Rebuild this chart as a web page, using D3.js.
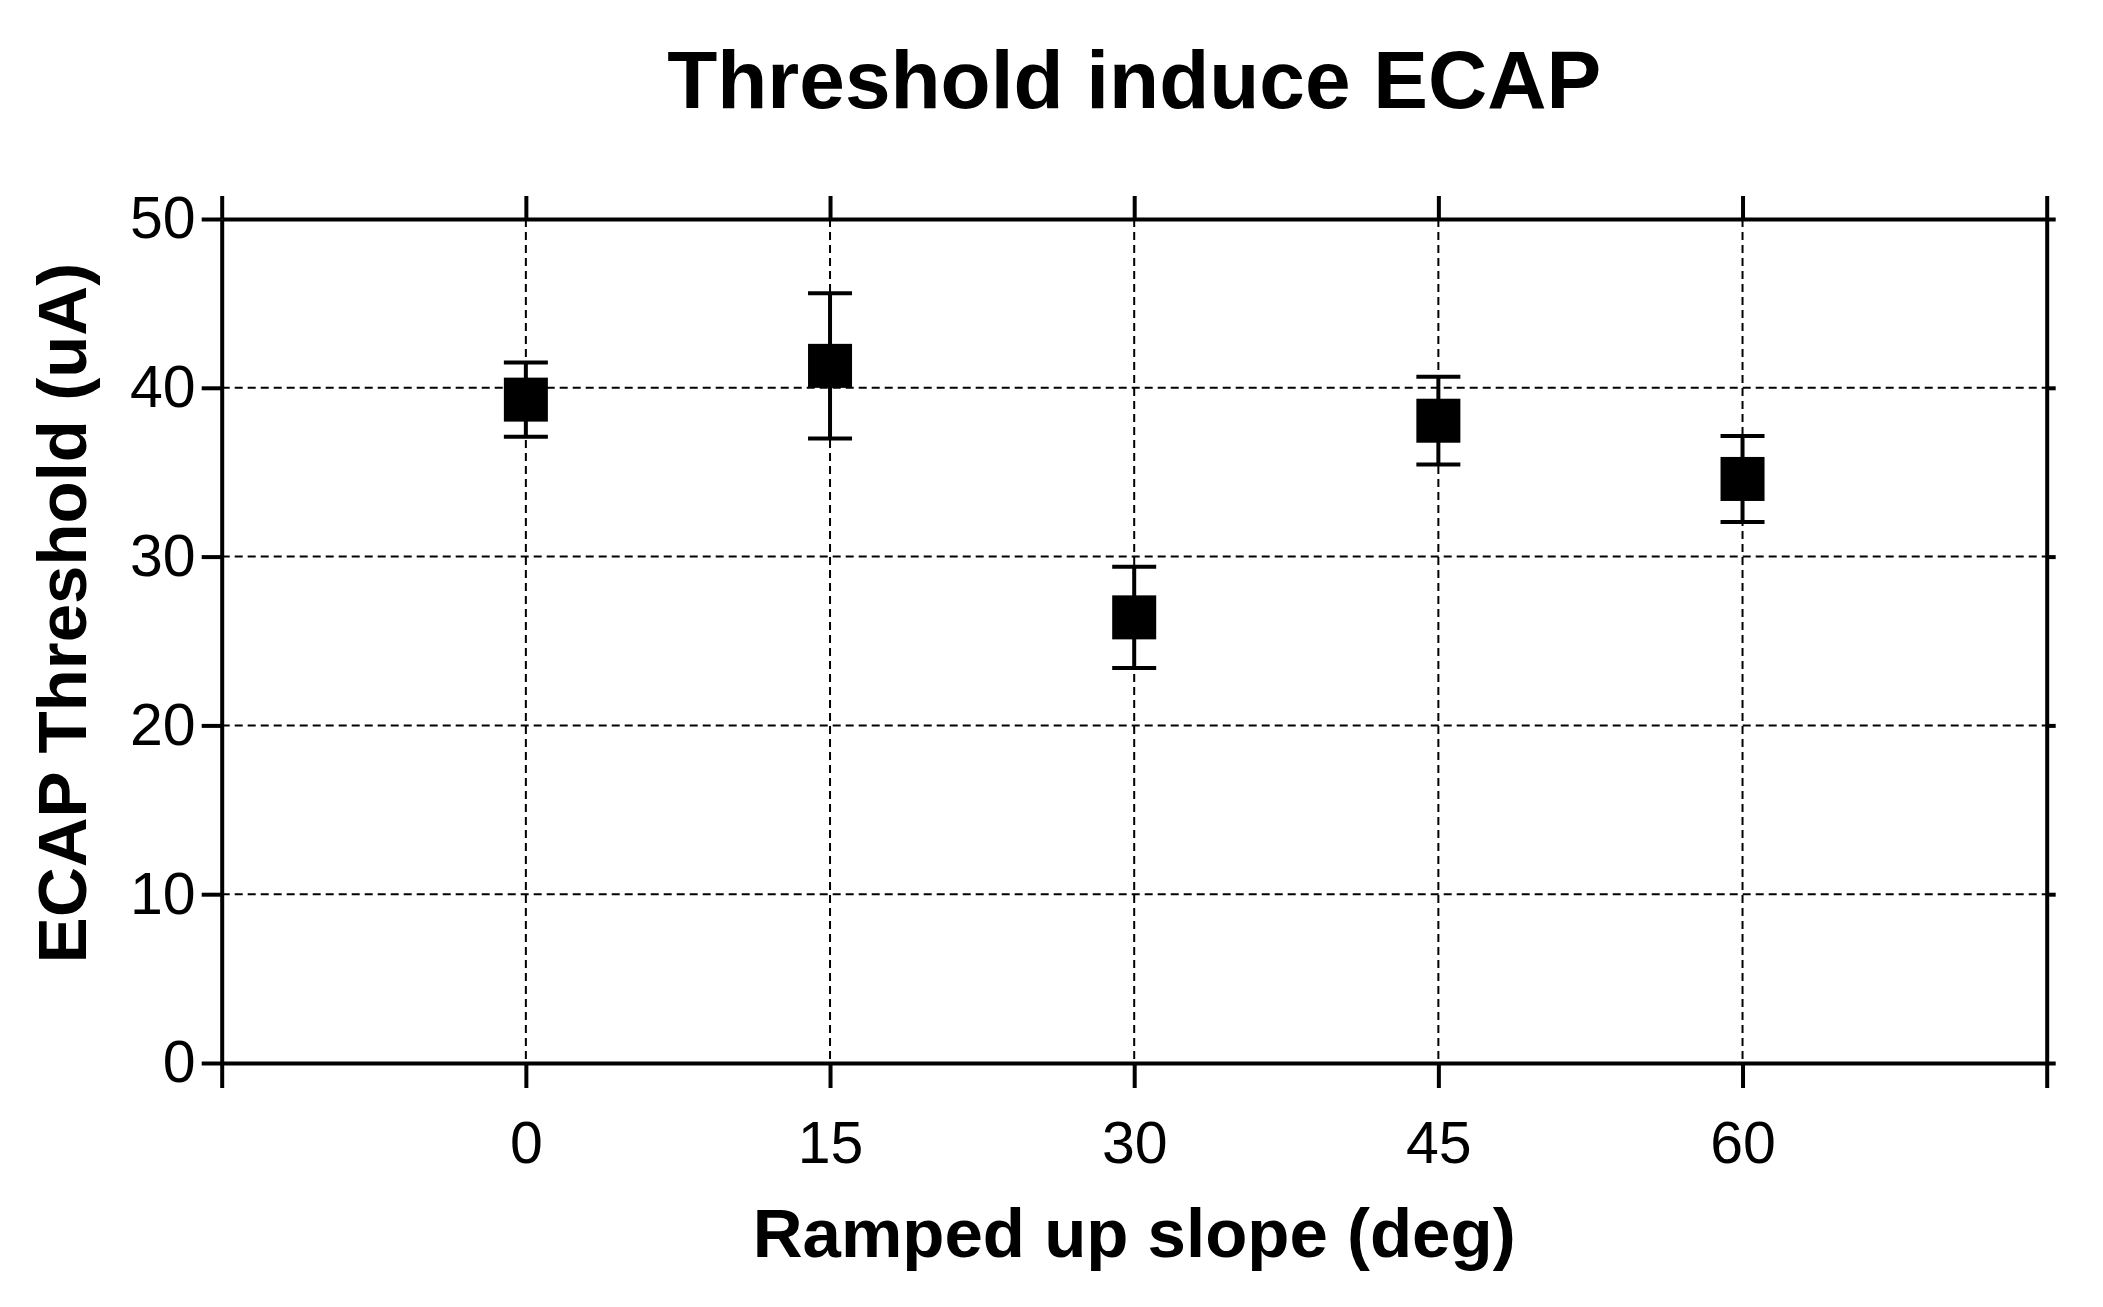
<!DOCTYPE html>
<html>
<head>
<meta charset="utf-8">
<script src="https://cdn.jsdelivr.net/npm/d3@7"></script>
<style>
    body { margin: 0; background: #fff; }
    text { font-family: "Liberation Sans", Arial, sans-serif; fill: #000; }
</style>
</head>
<body>
<div id="plot"></div>
<script>
// data
const angles = [0, 15, 30, 45, 60];
const means = [39.3, 41.3, 26.4, 38.05, 34.6];
const errors = [2.2, 4.3, 3.0, 2.6, 2.55];

const xTicks = [-15, 0, 15, 30, 45, 60, 75];
const xLabels = [0, 15, 30, 45, 60];
const yTicks = [0, 10, 20, 30, 40, 50];

const width = 2103;
const height = 1307;
const plotLeft = 221.7, plotRight = 2046.7, plotTop = 219, plotBottom = 1063;

const svg = d3.select("#plot")
    .append("svg")
    .attr("width", width)
    .attr("height", height);

svg.append("rect")
    .attr("width", width)
    .attr("height", height)
    .attr("fill", "#fff");

const x = d3.scaleLinear()
    .domain([-15, 75])
    .range([plotLeft, plotRight]);

const y = d3.scaleLinear()
    .domain([0, 50])
    .range([plotBottom, plotTop]);

// grid
svg.append("g")
    .selectAll("line")
    .data(xLabels)
    .join("line")
    .attr("x1", d => x(d))
    .attr("x2", d => x(d))
    .attr("y1", plotTop)
    .attr("y2", plotBottom)
    .attr("stroke", "#000")
    .attr("stroke-width", 2)
    .attr("stroke-dasharray", "8,5");

svg.append("g")
    .selectAll("line")
    .data(yTicks.slice(1, -1))
    .join("line")
    .attr("x1", plotLeft)
    .attr("x2", plotRight)
    .attr("y1", d => y(d))
    .attr("y2", d => y(d))
    .attr("stroke", "#000")
    .attr("stroke-width", 2)
    .attr("stroke-dasharray", "8,5");

// axes
function styleAxis(g) {
    g.select(".domain").attr("stroke-width", 4);
    g.selectAll(".tick line").attr("stroke-width", 4);
    g.selectAll(".tick text")
        .style("font-family", "'Liberation Sans', Arial, sans-serif")
        .style("font-size", "59px");
}

svg.append("g")
    .attr("transform", `translate(0,${plotBottom})`)
    .call(d3.axisBottom(x).tickValues(xTicks).tickSize(25).tickSizeOuter(0)
        .tickPadding(33).tickFormat(d => xLabels.includes(d) ? d : ""))
    .call(styleAxis);

svg.append("g")
    .attr("transform", `translate(0,${plotTop})`)
    .call(d3.axisTop(x).tickValues(xTicks).tickSize(23).tickSizeOuter(0).tickFormat(""))
    .call(styleAxis);

svg.append("g")
    .attr("transform", `translate(${plotLeft},0)`)
    .call(d3.axisLeft(y).tickValues(yTicks).tickSize(20).tickSizeOuter(0).tickPadding(6))
    .call(styleAxis);

svg.append("g")
    .attr("transform", `translate(${plotRight},0)`)
    .call(d3.axisRight(y).tickValues(yTicks).tickSize(9).tickSizeOuter(0).tickFormat(""))
    .call(styleAxis);

// error bars
const pts = angles.map((a, i) => ({a: a, m: means[i], e: errors[i]}));
const capW = 44, box = 44;

const eb = svg.append("g");
eb.selectAll(".stem")
    .data(pts)
    .join("line")
    .attr("class", "stem")
    .attr("x1", d => x(d.a))
    .attr("x2", d => x(d.a))
    .attr("y1", d => y(d.m + d.e))
    .attr("y2", d => y(d.m - d.e))
    .attr("stroke", "#000")
    .attr("stroke-width", 4);

eb.selectAll(".capTop")
    .data(pts)
    .join("line")
    .attr("class", "capTop")
    .attr("x1", d => x(d.a) - capW / 2)
    .attr("x2", d => x(d.a) + capW / 2)
    .attr("y1", d => y(d.m + d.e))
    .attr("y2", d => y(d.m + d.e))
    .attr("stroke", "#000")
    .attr("stroke-width", 4);

eb.selectAll(".capBot")
    .data(pts)
    .join("line")
    .attr("class", "capBot")
    .attr("x1", d => x(d.a) - capW / 2)
    .attr("x2", d => x(d.a) + capW / 2)
    .attr("y1", d => y(d.m - d.e))
    .attr("y2", d => y(d.m - d.e))
    .attr("stroke", "#000")
    .attr("stroke-width", 4);

// square markers
svg.append("g")
    .selectAll("rect")
    .data(pts)
    .join("rect")
    .attr("x", d => x(d.a) - box / 2)
    .attr("y", d => y(d.m) - box / 2)
    .attr("width", box)
    .attr("height", box)
    .attr("fill", "#000");

// Labels
svg.append("text")
    .attr("x", (plotLeft + plotRight) / 2)
    .attr("y", 108)
    .style("text-anchor", "middle")
    .style("font-size", "82px")
    .style("font-weight", "bold")
    .text("Threshold induce ECAP");

svg.append("text")
    .attr("x", (plotLeft + plotRight) / 2)
    .attr("y", 1257)
    .style("text-anchor", "middle")
    .style("font-size", "69px")
    .style("font-weight", "bold")
    .text("Ramped up slope (deg)");

svg.append("text")
    .attr("transform", "rotate(-90)")
    .attr("x", -613)
    .attr("y", 86)
    .style("text-anchor", "middle")
    .style("font-size", "69px")
    .style("font-weight", "bold")
    .text("ECAP Threshold (uA)");
</script>
</body>
</html>
